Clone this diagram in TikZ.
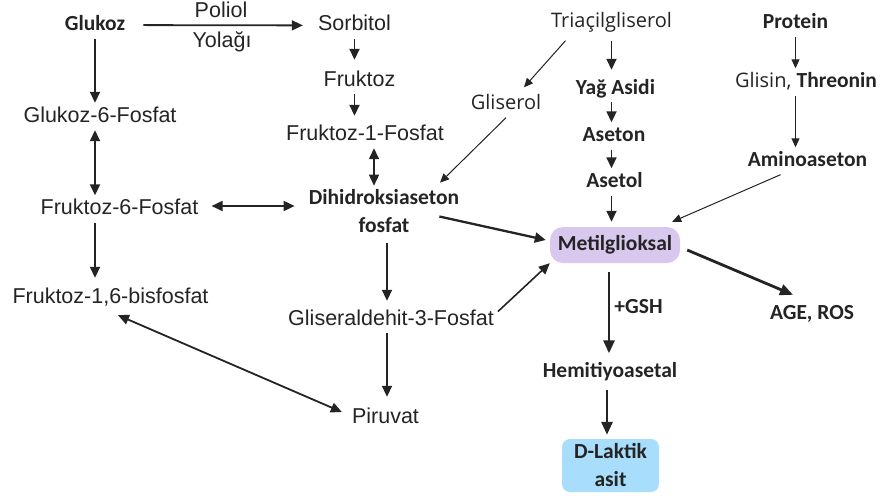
\documentclass[tikz,border=0pt]{standalone}
\usepackage{fontspec}
\setmainfont{Liberation Sans}
\newfontfamily\carlito{Carlito}
\newfontfamily\opensans{Open Sans}
\usetikzlibrary{arrows.meta}

\definecolor{ink}{RGB}{36,36,36}
\definecolor{mgfill}{RGB}{217,200,238}
\definecolor{dlfill}{RGB}{168,221,251}

\tikzstyle{txt} = [text=ink, inner sep=4pt, font=\fontsize{21.5}{26}\selectfont]
\tikzstyle{std} = [txt, text height=15pt, text depth=4pt]
\tikzstyle{stdb} = [std, font=\carlito\bfseries\fontsize{21.5}{28}\selectfont]
\tikzstyle{stdl} = [std, font=\opensans\fontsize{20}{24}\selectfont]
\tikzstyle{pool} = [txt, font=\carlito\bfseries\fontsize{21.5}{28}\selectfont, rounded corners=13pt]
\tikzstyle{arr} = [draw=ink, line width=1.8pt, -{Triangle[length=11pt,width=10pt]}]
\tikzstyle{arr2} = [arr, {Triangle[length=11pt,width=10pt]}-{Triangle[length=11pt,width=10pt]}]
\tikzstyle{thinarr} = [draw=ink, line width=1pt, -{Triangle[length=9pt,width=8pt]}]
\tikzstyle{heavyarr} = [draw=ink, line width=2.8pt, -{Triangle[length=13pt,width=11pt]}]

\begin{document}
\begin{tikzpicture}[x=1pt, y=-1pt]
		\useasboundingbox (0,0) rectangle (880,495);
		%\draw[help lines, step=20] (0,0) grid (880,495);
		
		% left column: glycolysis
		\node[stdb] (glukoz) at (95, 25) {Glukoz};
		\node[std] (poliol) at (221, 12.5) {Poliol};
		\node[std] (yolagi) at (222, 42.5) {Yolağı};
		\node[std] (sorbitol) at (354.5, 25.5) {Sorbitol};
		\node[std] (fruktoz) at (359.5, 80.5) {Fruktoz};
		\node[std] (f1p) at (365, 134.5) {Fruktoz-1-Fosfat};
		\node[std] (g6p) at (100, 116.5) {Glukoz-6-Fosfat};
		\node[std] (f6p) at (119.5, 209) {Fruktoz-6-Fosfat};
		\node[std] (f16bp) at (110.5, 297.5) {Fruktoz-1,6-bisfosfat};
		\node[txt, font=\carlito\bfseries\fontsize{21.5}{28}\selectfont, align=center] (dhap) at (384, 211.5) {Dihidroksiaseton\\fosfat};
		\node[std] (g3p) at (391, 319.5) {Gliseraldehit-3-Fosfat};
		\node[std] (piruvat) at (385.5, 417.5) {Piruvat};
		
		% lipids and proteins
		\node[stdl] (triacil) at (611.5, 22) {Triaçilgliserol};
		\node[stdl] (gliserol) at (506, 104) {Gliserol};
		\node[stdb] (yag) at (615.5, 88.5) {Yağ Asidi};
		\node[stdb] (aseton) at (614, 136) {Aseton};
		\node[stdb] (asetol) at (614.5, 182) {Asetol};
		\node[stdb] (protein) at (795.5, 23) {Protein};
		\node[stdl] (glisin) at (806, 82) {Glisin, {\carlito\bfseries\fontsize{21.5}{26}\selectfont Threonin}};
		\node[stdb] (amino) at (807.5, 161) {Aminoaseton};
		
		% methylglyoxal and its fate
		\node[pool, fill=mgfill, minimum width=130pt, minimum height=36pt] (metil) at (615, 245) {Metilglioksal};
		\node[stdb] (age) at (812, 314) {AGE, ROS};
		\node[stdb] (gsh) at (638.5, 308) {+GSH};
		\node[stdb] (hemi) at (610, 372) {Hemitiyoasetal};
		\node[pool, fill=dlfill, rounded corners=8pt, align=center, minimum width=97pt, minimum height=53pt] (dlaktik) at (610.5, 465.5) {D-Laktik\\asit};
		
		\draw[arr, shorten <=14pt, shorten >=11pt] (glukoz) -- (sorbitol);
		\draw[arr] (glukoz.south) -- (glukoz.south |- g6p.north);
		\draw[arr2] (g6p.south -| glukoz) -- (f6p.north -| glukoz);
		\draw[arr, shorten >=6pt] (f6p.south -| glukoz) -- (f16bp.north -| glukoz);
		\draw[arr2, shorten <=9pt, shorten >=10pt] ([yshift=3pt]f6p.east) -- ([yshift=3pt]f6p.east -| dhap.west);
		\draw[arr, shorten >=7pt] (sorbitol.south) -- (sorbitol.south |- fruktoz.north);
		\draw[arr, shorten >=5pt] (sorbitol.south |- fruktoz.south) -- (sorbitol.south |- f1p.north);
		\draw[draw=ink, line width=1.5pt, {Triangle[length=11pt,width=10pt]}-{Triangle[length=11pt,width=10pt]}] ([xshift=9pt]f1p.south) -- ([xshift=9pt]f1p.south |- dhap.north);
		\draw[arr, shorten <=6pt, shorten >=5pt] ([xshift=3pt]dhap.south) -- ([xshift=3pt]dhap.south |- g3p.north);
		\draw[arr, shorten >=7pt] ([xshift=-4pt]g3p.south) -- ([xshift=-4pt]g3p.south |- piruvat.north);
		\draw[arr2] ([xshift=7.5pt, yshift=-4pt]f16bp.south) -- ([xshift=-6pt, yshift=5.5pt]piruvat.west);
		\draw[arr, line width=1.6pt] ([yshift=8pt]g3p.east) -- (metil.south west);
		\draw[arr, line width=2.3pt] ([xshift=-24pt, yshift=-5pt]dhap.east) -- ([xshift=-4pt, yshift=5pt]metil.west);
		
		\draw[thinarr] ([xshift=-46pt, yshift=-5pt]triacil.south) -- ([xshift=18pt, yshift=3pt]gliserol.north);
		\draw[thinarr] (gliserol.south) -- ([xshift=56pt, yshift=3pt]dhap.north);
		\draw[arr, shorten <=5pt, shorten >=5pt] (triacil.south) -- (triacil.south |- yag.north);
		\foreach \a/\b in {yag/aseton, aseton/asetol}
		\draw[arr] (\a.south -| triacil) -- (\b.north -| triacil);
		\draw[arr, shorten >=5pt] (asetol.south -| triacil) -- (metil.north -| triacil);
		\draw[thinarr] (protein.south) -- (protein.south |- glisin.north);
		\draw[thinarr] (protein.south |- glisin.south) -- (protein.south |- amino.north);
		\draw[thinarr] ([xshift=-27pt]amino.south) -- ([xshift=-8pt, yshift=5pt]metil.north east);
		
		\draw[heavyarr] ([xshift=7pt, yshift=-5pt]metil.east) -- ([xshift=-19pt, yshift=5.5pt]age.north);
		\draw[heavyarr, shorten <=9pt, shorten >=5pt] ([xshift=-6pt]metil.south) -- ([xshift=-6pt]metil.south |- hemi.north);
		\draw[heavyarr, shorten <=4pt, shorten >=4pt] ([xshift=-3pt]hemi.south) -- ([xshift=-3pt]hemi.south |- dlaktik.north);
		
	\end{tikzpicture}
\end{document}
